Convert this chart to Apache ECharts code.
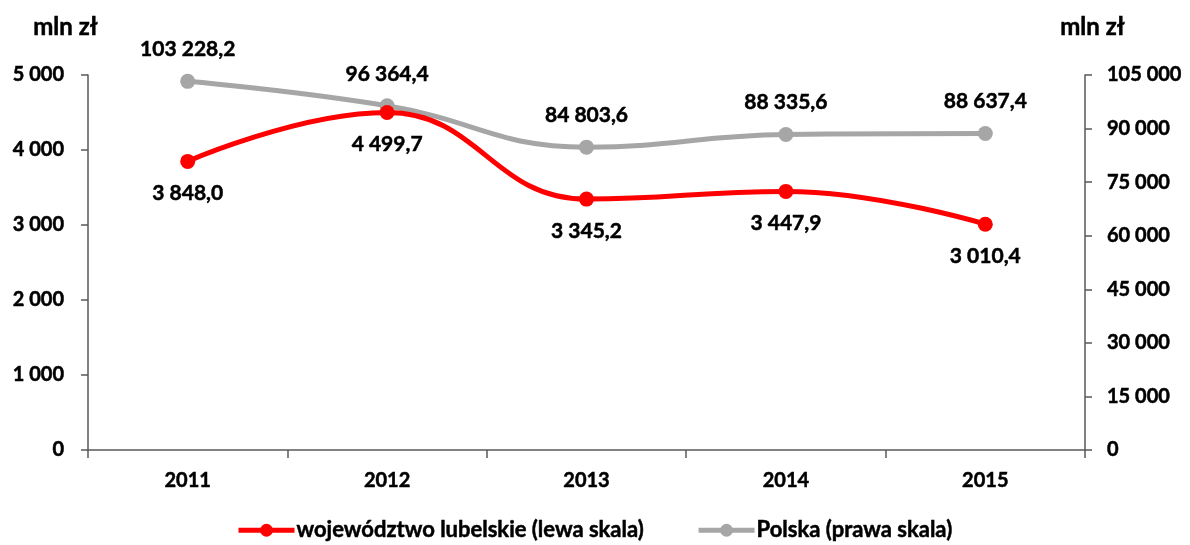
<!DOCTYPE html>
<html>
<head>
<meta charset="utf-8">
<script src="https://cdn.jsdelivr.net/npm/echarts@6/dist/echarts.min.js"></script>
<style>
  html, body { margin: 0; padding: 0; background: #fff; }
  #chart { width: 1190px; height: 545px; }
</style>
</head>
<body>
<div id="chart"></div>
<script>
var years = ['2011', '2012', '2013', '2014', '2015'];
var lubelskie = [3848.0, 4499.7, 3345.2, 3447.9, 3010.4];
var polska = [103228.2, 96364.4, 84803.6, 88335.6, 88637.4];
var seriesNames = ['województwo lubelskie (lewa skala)', 'Polska (prawa skala)'];

var FONT = 'Lato, "Open Sans", sans-serif';

// liczby w formacie polskim: spacja tysięcy, przecinek dziesiętny
function fmt(v, dec) {
  var s = v.toFixed(dec).replace('.', ',');
  var parts = s.split(',');
  parts[0] = parts[0].replace(/\B(?=(\d{3})+(?!\d))/g, ' ');
  return parts.join(',');
}

var chart = echarts.init(document.getElementById('chart'));

var txt = { color: '#000', fontFamily: FONT, fontWeight: 'bold', textBorderColor: '#000', textBorderWidth: 0.5 };
var axisLine = { show: true, lineStyle: { color: '#595959', width: 1.5 } };
var tickStyle = { show: true, length: 7, lineStyle: { color: '#595959', width: 1.5 } };

var option = {
  animation: false,
  grid: { left: 88, right: 105, top: 75, bottom: 95 },
  graphic: [
    { type: 'text', left: 33, top: 15, style: { text: 'mln zł', fill: '#000', stroke: '#000', lineWidth: 0.5, font: 'bold 24px ' + FONT } },
    { type: 'text', left: 1060, top: 15, style: { text: 'mln zł', fill: '#000', stroke: '#000', lineWidth: 0.5, font: 'bold 24px ' + FONT } }
  ],
  legend: {
    top: 514,
    left: 231,
    itemWidth: 56,
    itemHeight: 16,
    itemGap: 52,
    lineStyle: { width: 5 },
    textStyle: Object.assign({ fontSize: 22, padding: [0, 0, 0, -3] }, txt),
    data: seriesNames
  },
  xAxis: {
    type: 'category',
    data: years,
    boundaryGap: true,
    axisLine: axisLine,
    axisTick: { show: true, length: 8, lineStyle: { color: '#595959', width: 1.5 } },
    axisLabel: Object.assign({ margin: 21, fontSize: 20 }, txt)
  },
  yAxis: [{
    type: 'value',
    min: 0, max: 5000, interval: 1000,
    axisLine: axisLine,
    axisTick: tickStyle,
    splitLine: { show: false },
    axisLabel: Object.assign({ margin: 24, fontSize: 20, formatter: function (v) { return fmt(v, 0); } }, txt)
  }, {
    type: 'value',
    position: 'right',
    min: 0, max: 105000, interval: 15000,
    axisLine: axisLine,
    axisTick: tickStyle,
    splitLine: { show: false },
    axisLabel: Object.assign({ margin: 22, fontSize: 20, formatter: function (v) { return fmt(v, 0); } }, txt)
  }],
  series: [{
    name: seriesNames[0],
    type: 'line',
    yAxisIndex: 0,
    data: lubelskie,
    smooth: 0.45,
    symbol: 'circle',
    symbolSize: 15,
    z: 3,
    lineStyle: { color: '#ff0000', width: 5 },
    itemStyle: { color: '#ff0000' },
    label: Object.assign({
      show: true, position: 'bottom', distance: 14, fontSize: 21,
      formatter: function (p) { return fmt(p.value, 1); }
    }, txt)
  }, {
    name: seriesNames[1],
    type: 'line',
    yAxisIndex: 1,
    data: polska,
    smooth: 0.45,
    symbol: 'circle',
    symbolSize: 15,
    z: 2,
    lineStyle: { color: '#a6a6a6', width: 5 },
    itemStyle: { color: '#a6a6a6' },
    label: Object.assign({
      show: true, position: 'top', distance: 14, fontSize: 21,
      formatter: function (p) { return fmt(p.value, 1); }
    }, txt)
  }]
};

chart.setOption(option);
</script>
</body>
</html>
